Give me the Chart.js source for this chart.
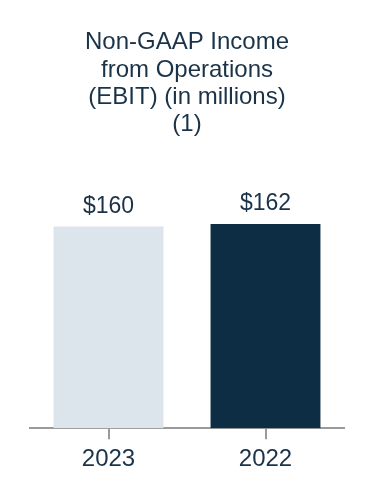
<!DOCTYPE html>
<html>
<head>
<meta charset="utf-8">
<script src="https://cdn.jsdelivr.net/npm/chart.js@4"></script>
<style>
  html, body { margin: 0; padding: 0; background: #fff; }
  #wrap { width: 374px; height: 500px; }
</style>
</head>
<body>
<div id="wrap"><canvas id="myChart"></canvas></div>
<script>
const years = ['2023', '2022'];
const ebit = [160, 162];
const barColors = ['#dce4ec', '#0d2d44'];
const titleLines = ['Non-GAAP Income', 'from Operations', '(EBIT) (in millions)', '(1)'];

const textColor = '#1a3348';

// dollar labels above the bars
const valueLabels = {
  id: 'valueLabels',
  afterDatasetsDraw(chart) {
    const ctx = chart.ctx;
    const meta = chart.getDatasetMeta(0);
    ctx.save();
    ctx.fillStyle = textColor;
    ctx.font = '23px "Liberation Sans", Arial, sans-serif';
    ctx.textAlign = 'center';
    ctx.textBaseline = 'alphabetic';
    meta.data.forEach((bar, i) => {
      ctx.fillText('$' + ebit[i], bar.x, bar.y - 14);
    });
    ctx.restore();
  }
};

const ctx = document.getElementById('myChart');

new Chart(ctx, {
  type: 'bar',
  data: {
    labels: years,
    datasets: [{
      data: ebit,
      backgroundColor: barColors,
      barPercentage: 0.7,
      categoryPercentage: 1
    }]
  },
  options: {
    responsive: true,
    maintainAspectRatio: false,
    animation: false,
    layout: { padding: { left: 30, right: 30, top: 29, bottom: 20 } },
    plugins: {
      legend: { display: false },
      tooltip: { enabled: false },
      title: {
        display: true,
        text: titleLines,
        color: textColor,
        font: { family: '"Liberation Sans", Arial, sans-serif', size: 24, weight: 'normal', lineHeight: 1.14 },
        padding: { top: 0, bottom: 20 }
      }
    },
    scales: {
      x: {
        border: { display: true, color: '#9a9a9a', width: 2 },
        grid: { display: true, drawOnChartArea: false, drawTicks: true, tickLength: 11, tickColor: '#9a9a9a', lineWidth: 2, offset: false },
        ticks: {
          color: textColor,
          font: { family: '"Liberation Sans", Arial, sans-serif', size: 24 },
          padding: 6
        }
      },
      y: {
        display: false,
        min: 0,
        max: 214
      }
    }
  },
  plugins: [valueLabels]
});
</script>
</body>
</html>
